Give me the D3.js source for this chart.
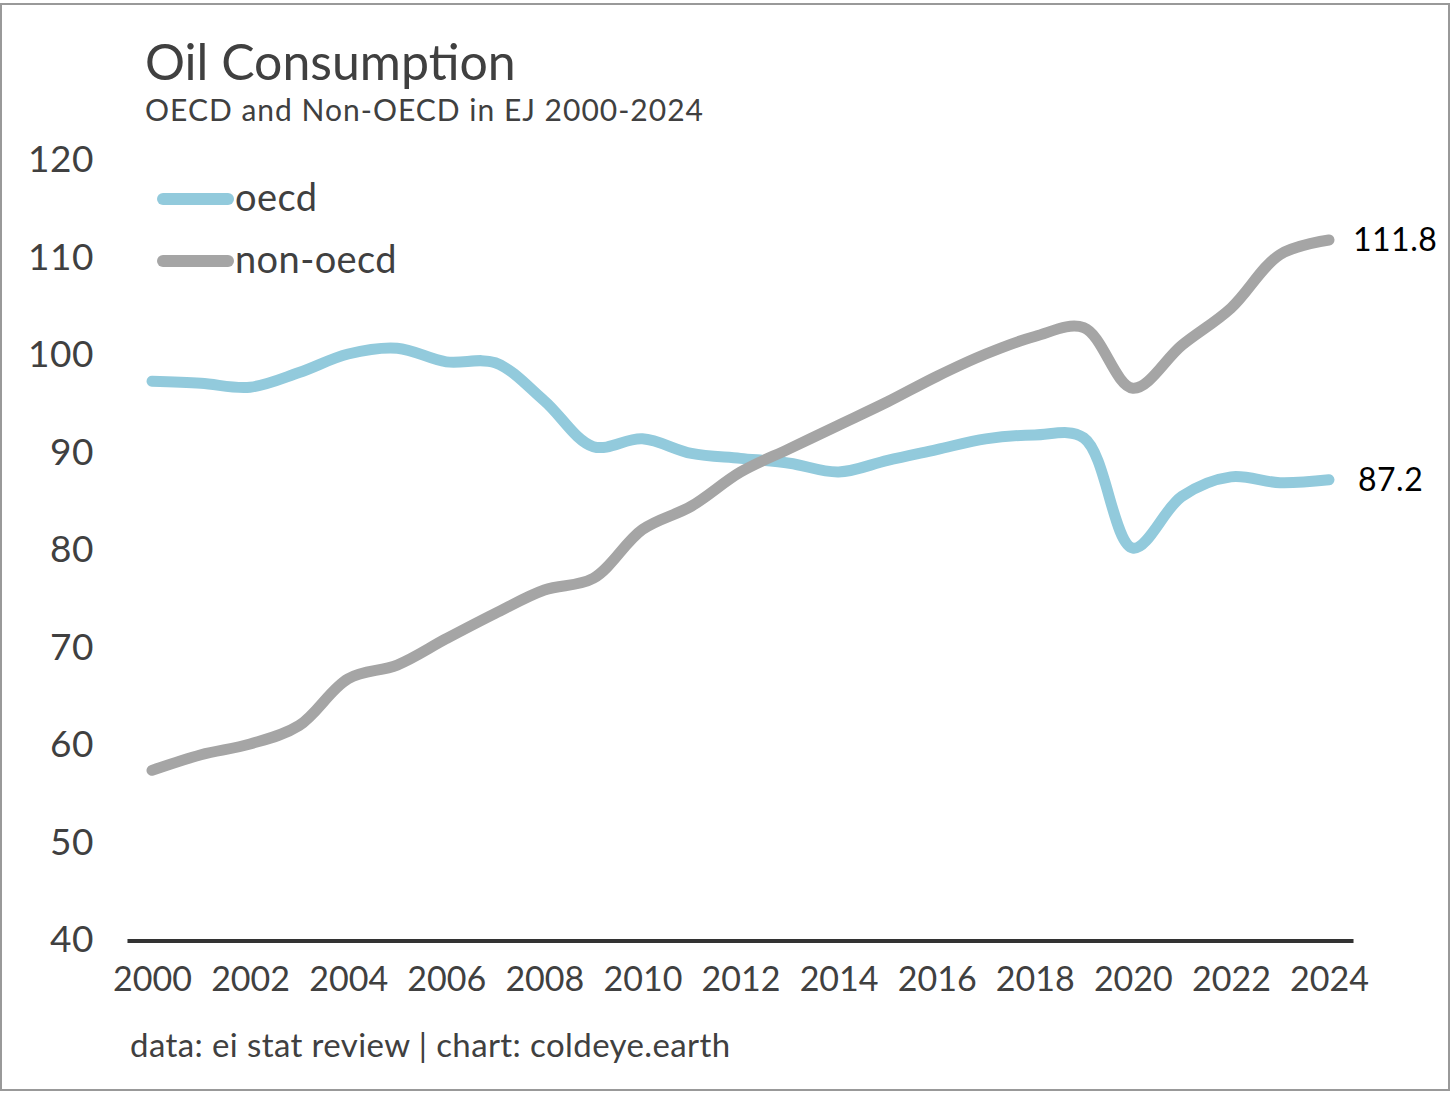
<!DOCTYPE html>
<html>
<head>
<meta charset="utf-8">
<script src="https://cdn.jsdelivr.net/npm/d3@7/dist/d3.min.js"></script>
<style>
  body { margin: 0; background: #fff; }
  text { font-family: Lato, "Noto Sans", sans-serif; }
</style>
</head>
<body>
<svg id="svg" width="1456" height="1097"></svg>
<script>
const years = [2000, 2001, 2002, 2003, 2004, 2005, 2006, 2007, 2008, 2009, 2010, 2011, 2012,
    2013, 2014, 2015, 2016, 2017, 2018, 2019, 2020, 2021, 2022, 2023, 2024];

const oecd = [97.3, 97.1, 96.7, 98.2, 100.1, 100.7, 99.3, 99.2, 95.3, 90.6, 91.4, 89.9, 89.4,
    88.9, 88.0, 89.2, 90.3, 91.4, 91.8, 91.5, 80.2, 85.5, 87.5, 86.9, 87.2];

const nonOecd = [57.4, 59.0, 60.1, 62.0, 66.8, 68.2, 70.9, 73.5, 75.9, 77.1, 82.1, 84.5, 88.0,
    90.4, 92.8, 95.2, 97.8, 100.1, 101.9, 102.8, 96.6, 101.0, 104.8, 110.3, 111.8];

const seriesNames = ["oecd", "non-oecd"];
const seriesColors = ["#92cadc", "#a5a5a5"];

const yTicks = [40, 50, 60, 70, 80, 90, 100, 110, 120];
const xTicks = [2000, 2002, 2004, 2006, 2008, 2010, 2012, 2014, 2016, 2018, 2020, 2022, 2024];

const title = "Oil Consumption";
const subtitle = "OECD and Non-OECD in EJ 2000-2024";
const source = "data: ei stat review | chart: coldeye.earth";

const textColor = "#404040";

const svg = d3.select("#svg");

// frame round the picture
svg.append("rect")
    .attr("x", 1).attr("y", 4)
    .attr("width", 1448).attr("height", 1086)
    .attr("fill", "none")
    .attr("stroke", "#999")
    .attr("stroke-width", 2);

const x = d3.scaleLinear().domain([2000, 2024]).range([152, 1329]);
const y = d3.scaleLinear().domain([40, 120]).range([940, 160]);

// y axis, labels only
const yAxis = svg.append("g")
    .attr("transform", "translate(94,0)")
    .call(d3.axisLeft(y).tickValues(yTicks).tickSize(0).tickPadding(0));
yAxis.select(".domain").remove();
yAxis.selectAll("text")
    .attr("fill", textColor)
    .attr("font-size", 37)
    .attr("letter-spacing", 0.5)
    .attr("font-family", "Lato, sans-serif");

// x axis labels
const xAxis = svg.append("g")
    .attr("transform", "translate(0,941)")
    .call(d3.axisBottom(x).tickValues(xTicks).tickFormat(d3.format("d")).tickSize(0).tickPadding(26));
xAxis.select(".domain").remove();
xAxis.selectAll("text")
    .attr("fill", textColor)
    .attr("font-size", 34)
    .attr("font-family", "Lato, sans-serif");

// baseline
svg.append("line")
    .attr("x1", x(1999.5)).attr("x2", x(2024.5))
    .attr("y1", y(40) + 1).attr("y2", y(40) + 1)
    .attr("stroke", "#333")
    .attr("stroke-width", 4);

const line = d3.line()
    .x((d, i) => x(years[i]))
    .y(d => y(d))
    .curve(d3.curveCatmullRom.alpha(0.5));

[oecd, nonOecd].forEach((values, k) => {
    svg.append("path")
        .datum(values)
        .attr("d", line)
        .attr("fill", "none")
        .attr("stroke", seriesColors[k])
        .attr("stroke-width", 11)
        .attr("stroke-linecap", "round")
        .attr("stroke-linejoin", "round");
});

// end labels
[oecd, nonOecd].forEach((values, k) => {
    const last = values[values.length - 1];
    svg.append("text")
        .attr("x", x(years[years.length - 1]) + (k === 0 ? 29 : 24))
        .attr("y", y(last))
        .attr("dy", "0.35em")
        .attr("fill", "#000")
        .attr("font-size", 32)
        .attr("letter-spacing", 0.5)
        .text(d3.format(".1f")(last));
});

// legend
const legend = svg.append("g");
seriesNames.forEach((name, k) => {
    const ly = 199 + k * 62;
    legend.append("line")
        .attr("x1", 163).attr("x2", 228)
        .attr("y1", ly).attr("y2", ly)
        .attr("stroke", seriesColors[k])
        .attr("stroke-width", 12)
        .attr("stroke-linecap", "round");
    legend.append("text")
        .attr("x", 235).attr("y", ly + 12)
        .attr("fill", textColor)
        .attr("font-size", 38)
        .attr("letter-spacing", 0.4)
        .text(name);
});

// titles
svg.append("text")
    .attr("x", 145).attr("y", 80)
    .attr("fill", textColor)
    .attr("font-size", 50)
    .text(title);

svg.append("text")
    .attr("x", 145).attr("y", 121)
    .attr("fill", textColor)
    .attr("font-size", 30)
    .attr("letter-spacing", 1)
    .text(subtitle);

svg.append("text")
    .attr("x", 130).attr("y", 1057)
    .attr("fill", textColor)
    .attr("font-size", 33)
    .attr("letter-spacing", 0.4)
    .text(source);
</script>
</body>
</html>
